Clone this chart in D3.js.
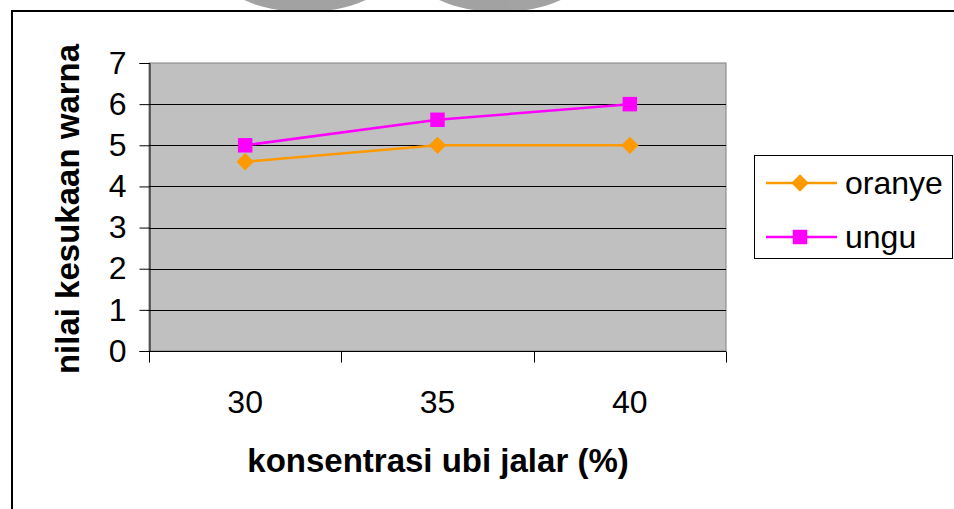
<!DOCTYPE html>
<html>
<head>
<meta charset="utf-8">
<script src="https://cdn.jsdelivr.net/npm/d3@7"></script>
<style>
  body { margin: 0; background: #fff; }
  text { font-family: Arial, "Liberation Sans", sans-serif; }
</style>
</head>
<body>
<div id="chart"></div>
<script>
const categories = ['30', '35', '40']
const oranye = [4.6, 5.0, 5.0]
const ungu = [5.0, 5.62, 6.0]
const yTicks = [0, 1, 2, 3, 4, 5, 6, 7]

const width = 954
const height = 509
const plot = { left: 149, right: 726, top: 63, bottom: 351 }

const svg = d3.select('#chart').append('svg')
    .attr('width', width)
    .attr('height', height)

// faint scan shadow above the frame
const shade = svg.append('g').attr('fill', '#8c8c8c').attr('opacity', 0.8)
shade.append('ellipse').attr('cx', 305).attr('cy', -28).attr('rx', 85).attr('ry', 40)
shade.append('ellipse').attr('cx', 500).attr('cy', -28).attr('rx', 85).attr('ry', 40)
svg.append('rect').attr('x', 0).attr('y', 10).attr('width', width).attr('height', height).attr('fill', '#fff')

// outer frame
svg.append('path')
    .attr('d', `M12,${height + 5} V11 H${width + 5}`)
    .attr('fill', 'none')
    .attr('stroke', '#000')
    .attr('stroke-width', 2)

const x = d3.scaleBand()
    .domain(categories)
    .range([plot.left, plot.right])

const y = d3.scaleLinear()
    .domain([0, 7])
    .range([plot.bottom, plot.top])

svg.append('rect')
    .attr('x', plot.left)
    .attr('y', plot.top)
    .attr('width', plot.right - plot.left)
    .attr('height', plot.bottom - plot.top)
    .attr('fill', '#c0c0c0')
    .attr('stroke', '#808080')
    .attr('stroke-width', 1)

// gridlines
svg.append('g')
    .selectAll('line')
    .data(yTicks.filter(d => d > 0 && d < 7))
    .join('line')
    .attr('x1', plot.left)
    .attr('x2', plot.right)
    .attr('y1', d => Math.round(y(d)) + 0.5)
    .attr('y2', d => Math.round(y(d)) + 0.5)
    .attr('stroke', '#000')

// y axis
const yAxis = svg.append('g')
    .attr('transform', `translate(${plot.left + 0.5},0)`)
    .call(d3.axisLeft(y).tickValues(yTicks).tickFormat(d3.format('d')).tickSize(10).tickPadding(13))
yAxis.select('.domain').attr('stroke', '#000')
yAxis.selectAll('text').attr('font-size', 32).attr('fill', '#000').attr('font-family', 'Arial, "Liberation Sans", sans-serif')
yAxis.selectAll('line').attr('stroke', '#000')

// x axis, ticks at category boundaries
const bounds = categories.map(c => x(c)).concat([plot.right])
const xAxis = svg.append('g').attr('transform', `translate(0,${plot.bottom + 0.5})`)
xAxis.append('line')
    .attr('x1', plot.left).attr('x2', plot.right)
    .attr('stroke', '#000')
xAxis.selectAll('line.tick')
    .data(bounds)
    .join('line')
    .attr('class', 'tick')
    .attr('x1', d => Math.round(d) + 0.5).attr('x2', d => Math.round(d) + 0.5)
    .attr('y1', 0).attr('y2', 11)
    .attr('stroke', '#000')
xAxis.selectAll('text')
    .data(categories)
    .join('text')
    .attr('x', d => x(d) + x.bandwidth() / 2)
    .attr('y', 61)
    .attr('text-anchor', 'middle')
    .attr('font-size', 32)
    .text(d => d)

// axis titles
svg.append('text')
    .attr('x', 438)
    .attr('y', 472)
    .attr('text-anchor', 'middle')
    .attr('font-size', 33)
    .attr('font-weight', 'bold')
    .text('konsentrasi ubi jalar (%)')

svg.append('text')
    .attr('transform', `translate(79,209) rotate(-90)`)
    .attr('text-anchor', 'middle')
    .attr('font-size', 33)
    .attr('font-weight', 'bold')
    .text('nilai kesukaan warna')

const cx = d => x(d) + x.bandwidth() / 2
const line = d3.line()
    .x((d, i) => cx(categories[i]))
    .y(d => y(d))

const series = [
    { name: 'oranye', values: oranye, color: '#ff9900', rotate: 45, size: 150 },
    { name: 'ungu', values: ungu, color: '#ff00ff', rotate: 0, size: 210 },
]
const marker = s => d3.symbol().type(d3.symbolSquare).size(s.size)()

series.forEach(s => {
    svg.append('path')
        .datum(s.values)
        .attr('d', line)
        .attr('fill', 'none')
        .attr('stroke', s.color)
        .attr('stroke-width', 2.5)
    svg.append('g')
        .selectAll('path')
        .data(s.values)
        .join('path')
        .attr('transform', (d, i) => `translate(${cx(categories[i])},${y(d)}) rotate(${s.rotate})`)
        .attr('d', marker(s))
        .attr('fill', s.color)
})

// legend
const legend = svg.append('g').attr('transform', 'translate(754,155)')
legend.append('rect')
    .attr('x', 0.5).attr('y', 0.5)
    .attr('width', 198).attr('height', 103)
    .attr('fill', '#fff')
    .attr('stroke', '#000')

const items = legend.selectAll('g.item')
    .data(series)
    .join('g')
    .attr('class', 'item')
    .attr('transform', (d, i) => `translate(0,${28 + i * 54})`)
items.append('line')
    .attr('x1', 12).attr('x2', 83)
    .attr('stroke', d => d.color)
    .attr('stroke-width', 2.5)
items.append('path')
    .attr('transform', d => `translate(46,0) rotate(${d.rotate})`)
    .attr('d', d => marker(d))
    .attr('fill', d => d.color)
items.append('text')
    .attr('x', 91)
    .attr('y', 11)
    .attr('font-size', 32)
    .text(d => d.name)
</script>
</body>
</html>
